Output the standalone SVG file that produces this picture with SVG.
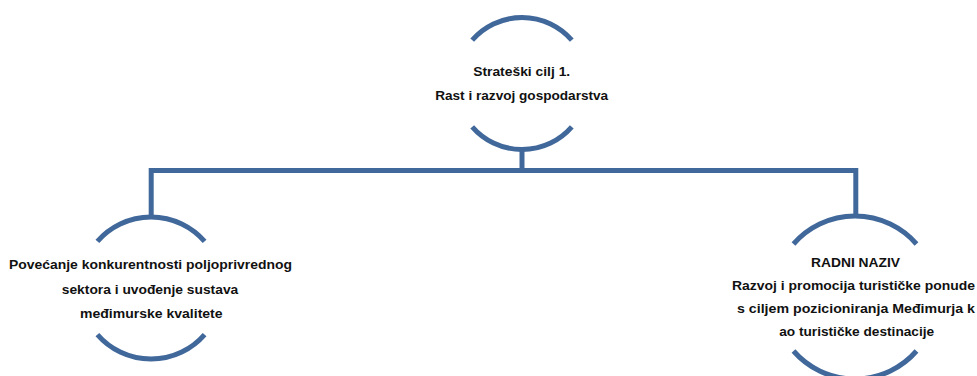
<svg xmlns="http://www.w3.org/2000/svg" width="977" height="376" viewBox="0 0 977 376">
<style>
.arc{fill:none;stroke:#41689A;stroke-width:5;stroke-linecap:butt}
.conn{fill:none;stroke:#41689A;stroke-width:5;stroke-linejoin:miter}
.t{font-family:"Liberation Sans",Arial,sans-serif;font-weight:bold;font-size:13px;fill:#111;text-anchor:middle}
</style>
<rect width="977" height="376" fill="#fff"/>
<g id="connectors">
<polyline class="conn" points="522,150 522,170.5"/>
<polyline class="conn" points="151.2,217 151.2,170.5 855.8,170.5 855.8,216.5"/>
</g>
<g id="node-strateski-cilj">
<path class="arc" d="M472.2,40.2 A66,66 0 0 1 571.8,40.2"/>
<path class="arc" d="M472.2,126.8 A66,66 0 0 0 571.8,126.8"/>
<text class="t" x="521.7" y="76" textLength="97" lengthAdjust="spacingAndGlyphs">Strateški cilj 1.</text>
<text class="t" x="521.7" y="99.5" textLength="173" lengthAdjust="spacingAndGlyphs">Rast i razvoj gospodarstva</text>
</g>
<g id="node-poljoprivreda">
<path class="arc" d="M97.4,241.4 A71,71 0 0 1 204.6,241.4"/>
<path class="arc" d="M97.4,334.6 A71,71 0 0 0 204.6,334.6"/>
<text class="t" x="150.5" y="269" textLength="283" lengthAdjust="spacingAndGlyphs">Povećanje konkurentnosti poljoprivrednog</text>
<text class="t" x="150" y="293.5" textLength="176.5" lengthAdjust="spacingAndGlyphs">sektora i uvođenje sustava</text>
<text class="t" x="151.3" y="317.5" textLength="142.5" lengthAdjust="spacingAndGlyphs">međimurske kvalitete</text>
</g>
<g id="node-turizam">
<path class="arc" d="M793.5,244 A81.5,81.5 0 0 1 916.5,244"/>
<path class="arc" d="M793.5,351 A81.5,81.5 0 0 0 916.5,351"/>
<text class="t" x="855.5" y="266.5" textLength="89" lengthAdjust="spacingAndGlyphs">RADNI NAZIV</text>
<text class="t" x="853.5" y="289.5" textLength="243" lengthAdjust="spacingAndGlyphs">Razvoj i promocija turističke ponude</text>
<text class="t" x="856" y="312.5" textLength="238" lengthAdjust="spacingAndGlyphs">s ciljem pozicioniranja Međimurja k</text>
<text class="t" x="856.7" y="335.5" textLength="155" lengthAdjust="spacingAndGlyphs">ao turističke destinacije</text>
</g>
</svg>
